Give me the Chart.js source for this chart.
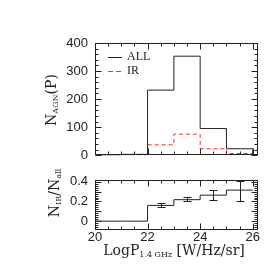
<!DOCTYPE html>
<html>
<head>
<meta charset="utf-8">
<script src="https://cdn.jsdelivr.net/npm/chart.js@4"></script>
<style>
    html, body { margin: 0; padding: 0; background: #ffffff; }
    #wrap { position: relative; width: 279px; height: 279px; }
    canvas { position: absolute; left: 0; }
    #topChart { top: 0; }
    #ratioChart { top: 165px; }
</style>
</head>
<body>
<div id="wrap">
    <canvas id="topChart" width="279" height="170" style="width:279px;height:170px"></canvas>
    <canvas id="ratioChart" width="279" height="114" style="width:279px;height:114px"></canvas>
</div>
<script>
// histogram bins (log radio power) and counts
const binEdges = [20, 21, 22, 23, 24, 25, 26];
const allCounts = [0, 3, 232, 353, 95, 23];
const irCounts = [0, 0, 37, 75, 23, 6];

// IR fraction per bin and its error bars
const ratioValues = [0, 0, 0.16, 0.218, 0.264, 0.315];
const errCenters = [22.5, 23.5, 24.5, 25.5];
const errLow = [0.143, 0.203, 0.218, 0.20];
const errHigh = [0.188, 0.243, 0.318, 0.41];

const INK = '#222222';
const RED = '#ff2a2a';
const TICK_FONT = { family: 'Liberation Sans', size: 13 };

// turn bin edges + values into points for a stepped line
function stepPoints(edges, vals, dropToZero) {
    const pts = vals.map((v, i) => ({ x: edges[i], y: v }));
    pts.push({ x: edges[edges.length - 1], y: vals[vals.length - 1] });
    if (dropToZero) pts.push({ x: edges[edges.length - 1], y: 0 });
    return pts;
}

// text with subscripts, parts = [{t, sub}]
function drawRich(ctx, parts, cx, cy, rotated) {
    const big = '14px "DejaVu Serif"';
    const small = '8px "DejaVu Serif"';
    let total = 0;
    parts.forEach(p => {
        ctx.font = p.sub ? small : big;
        total += ctx.measureText(p.t).width;
    });
    ctx.save();
    ctx.translate(cx, cy);
    if (rotated) ctx.rotate(-Math.PI / 2);
    ctx.fillStyle = INK;
    ctx.textBaseline = 'middle';
    ctx.textAlign = 'left';
    let x = -total / 2;
    parts.forEach(p => {
        ctx.font = p.sub ? small : big;
        ctx.fillText(p.t, x, p.sub ? 4 : 0);
        x += ctx.measureText(p.t).width;
    });
    ctx.restore();
}

// box round the plot with inward ticks on all sides
const framePlugin = {
    id: 'frame',
    afterDatasetsDraw(chart, args, opts) {
        const { ctx, chartArea: a } = chart;
        const xs = chart.scales.x, ys = chart.scales.y;
        ctx.save();
        ctx.strokeStyle = INK;
        ctx.lineWidth = 1;
        const L = Math.round(a.left) + 0.5, R = Math.round(a.right) - 0.5;
        const T = Math.round(a.top) + 0.5, B = Math.round(a.bottom) - 0.5;
        ctx.strokeRect(L, T, R - L, B - T);
        ctx.beginPath();
        const isMajor = (v, step) => Math.abs(v / step - Math.round(v / step)) < 1e-6;
        const nx = Math.floor((xs.max - xs.min) / opts.xMinor + 1e-6);
        for (let i = 0; i <= nx; i++) {
            const v = xs.min + i * opts.xMinor;
            const len = isMajor(v, opts.xMajor) ? 6 : 3;
            const px = Math.round(xs.getPixelForValue(v)) + 0.5;
            ctx.moveTo(px, B); ctx.lineTo(px, B - len);
            ctx.moveTo(px, T); ctx.lineTo(px, T + len);
        }
        const start = Math.ceil(ys.min / opts.yMinor - 1e-6);
        const end = Math.floor(ys.max / opts.yMinor + 1e-6);
        for (let i = start; i <= end; i++) {
            const v = i * opts.yMinor;
            const len = isMajor(v, opts.yMajor) ? 6 : 3;
            const py = Math.round(ys.getPixelForValue(v)) + 0.5;
            ctx.moveTo(L, py); ctx.lineTo(L + len, py);
            ctx.moveTo(R, py); ctx.lineTo(R - len, py);
        }
        ctx.stroke();
        ctx.restore();
    }
};

// titles, legend and error bars
const decorPlugin = {
    id: 'decor',
    afterDraw(chart, args, opts) {
        const ctx = chart.ctx;
        if (opts.errors) {
            const xs = chart.scales.x, ys = chart.scales.y;
            ctx.save();
            ctx.strokeStyle = INK;
            ctx.lineWidth = 1;
            ctx.beginPath();
            errCenters.forEach((c, i) => {
                const px = Math.round(xs.getPixelForValue(c)) + 0.5;
                const lo = Math.round(ys.getPixelForValue(errLow[i])) + 0.5;
                const hi = Math.round(ys.getPixelForValue(errHigh[i])) + 0.5;
                ctx.moveTo(px, lo); ctx.lineTo(px, hi);
                ctx.moveTo(px - 4, lo); ctx.lineTo(px + 4, lo);
                ctx.moveTo(px - 4, hi); ctx.lineTo(px + 4, hi);
            });
            ctx.stroke();
            ctx.restore();
        }
        if (opts.legend) {
            ctx.save();
            ctx.lineWidth = 1;
            ctx.strokeStyle = INK;
            ctx.beginPath(); ctx.moveTo(108, 57.5); ctx.lineTo(122, 57.5); ctx.stroke();
            ctx.strokeStyle = RED;
            ctx.setLineDash([5, 3]);
            ctx.beginPath(); ctx.moveTo(108, 71.5); ctx.lineTo(124, 71.5); ctx.stroke();
            ctx.setLineDash([]);
            ctx.fillStyle = INK;
            ctx.font = '12px "Liberation Serif"';
            ctx.textBaseline = 'middle';
            ctx.fillText('ALL', 127, 57);
            ctx.fillText('IR', 127, 71);
            ctx.restore();
        }
        (opts.titles || []).forEach(t => drawRich(ctx, t.parts, t.x, t.y, t.rotated));
    }
};

const topChart = new Chart(document.getElementById('topChart'), {
    type: 'line',
    data: {
        datasets: [
            {
                label: 'ALL',
                data: stepPoints(binEdges, allCounts, true),
                stepped: 'before',
                borderColor: INK,
                borderWidth: 1,
                pointRadius: 0
            },
            {
                label: 'IR',
                data: stepPoints(binEdges, irCounts, true),
                stepped: 'before',
                borderColor: RED,
                borderDash: [4, 3],
                borderWidth: 1,
                pointRadius: 0
            }
        ]
    },
    options: {
        responsive: false,
        animation: false,
        layout: { padding: { top: 43, right: 21, bottom: 11, left: 0 } },
        plugins: {
            legend: { display: false },
            tooltip: { enabled: false },
            frame: { xMinor: 0.5, xMajor: 2, yMinor: 20, yMajor: 100 },
            decor: {
                legend: true,
                titles: [{ parts: [{ t: 'N' }, { t: 'AGN', sub: true }, { t: '(P)' }], x: 52, y: 100, rotated: true }]
            }
        },
        scales: {
            x: {
                type: 'linear', min: 20, max: 26.2,
                ticks: { display: false },
                grid: { display: false },
                border: { display: false },
                afterFit: s => { s.height = 0; }
            },
            y: {
                min: 0, max: 400,
                ticks: { stepSize: 100, color: INK, font: TICK_FONT, padding: 7 },
                grid: { display: false, drawTicks: false },
                border: { display: false },
                afterFit: s => { s.width = 95; }
            }
        }
    },
    plugins: [framePlugin, decorPlugin]
});

const ratioChart = new Chart(document.getElementById('ratioChart'), {
    type: 'line',
    data: {
        datasets: [{
            label: 'IR / all',
            data: stepPoints(binEdges, ratioValues, false),
            stepped: 'before',
            borderColor: INK,
            borderWidth: 1,
            pointRadius: 0
        }]
    },
    options: {
        responsive: false,
        animation: false,
        layout: { padding: { top: 9, right: 21, bottom: 0, left: 0 } },
        plugins: {
            legend: { display: false },
            tooltip: { enabled: false },
            frame: { xMinor: 0.5, xMajor: 2, yMinor: 0.02, yMajor: 0.1 },
            decor: {
                errors: true,
                titles: [
                    { parts: [{ t: 'N' }, { t: 'IR', sub: true }, { t: '/N' }, { t: 'all', sub: true }], x: 55, y: 28, rotated: true },
                    { parts: [{ t: 'LogP' }, { t: '1.4 GHz', sub: true }, { t: ' [W/Hz/sr]' }], x: 174, y: 86, rotated: false }
                ]
            }
        },
        scales: {
            x: {
                type: 'linear', min: 20, max: 26.2,
                ticks: { stepSize: 2, includeBounds: false, color: INK, font: TICK_FONT, padding: 0 },
                grid: { display: false, drawTicks: false },
                border: { display: false },
                afterFit: s => { s.height = 49; }
            },
            y: {
                min: -0.09, max: 0.42,
                ticks: {
                    stepSize: 0.1, includeBounds: false, color: INK, font: TICK_FONT, padding: 7,
                    callback: v => Math.abs(v) < 1e-9 ? '0' : v.toFixed(1)
                },
                grid: { display: false, drawTicks: false },
                border: { display: false },
                afterFit: s => { s.width = 95; }
            }
        }
    },
    plugins: [framePlugin, decorPlugin]
});
</script>
</body>
</html>
